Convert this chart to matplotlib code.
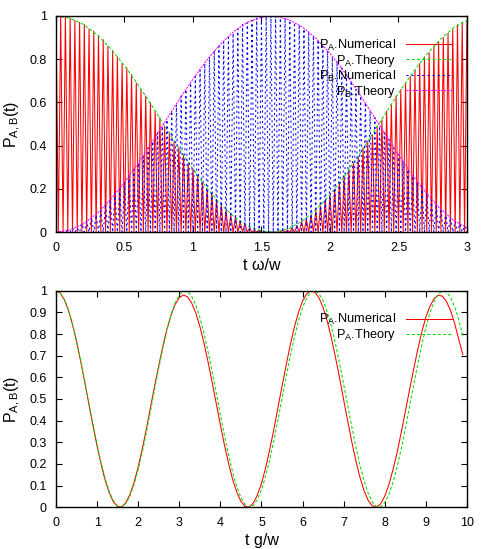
import numpy as np
import matplotlib
matplotlib.use('Agg')
import matplotlib.pyplot as plt

plt.rcParams['font.family'] = ['Liberation Sans', 'DejaVu Sans']
plt.rcParams['mathtext.fontset'] = 'custom'
plt.rcParams['mathtext.rm'] = 'Liberation Sans'
plt.rcParams['mathtext.it'] = 'Liberation Sans:italic'
plt.rcParams['mathtext.bf'] = 'Liberation Sans:bold'

# ---------------- top panel data ----------------
spike_period = 3.0 / 87      # spacing of the fast oscillation peaks (t w/w units)
trough_level = 0.0           # minima of the fast oscillation

pa_peaks = [1.00, 1.00, 1.00, 0.99, 0.98, 0.97, 0.96, 0.94, 0.93, 0.91,
            0.89, 0.86, 0.84, 0.81, 0.78, 0.76, 0.73, 0.69, 0.66, 0.63,
            0.60, 0.56, 0.53, 0.49, 0.46, 0.42, 0.39, 0.36, 0.32, 0.29,
            0.26, 0.23, 0.20, 0.18, 0.15, 0.13, 0.10, 0.08, 0.07, 0.05,
            0.04, 0.02, 0.01, 0.01, 0.00, 0.00, 0.00, 0.00, 0.01, 0.01,
            0.02, 0.03, 0.05, 0.06, 0.08, 0.10, 0.12, 0.15, 0.17, 0.20,
            0.23, 0.26, 0.29, 0.32, 0.35, 0.39, 0.42, 0.45, 0.49, 0.52,
            0.56, 0.59, 0.63, 0.66, 0.69, 0.72, 0.75, 0.78, 0.81, 0.83,
            0.86, 0.88, 0.90, 0.92, 0.94, 0.96, 0.97, 0.98]

pb_peaks = [0.00, 0.00, 0.01, 0.02, 0.02, 0.04, 0.05, 0.07, 0.08, 0.10,
            0.13, 0.15, 0.18, 0.20, 0.23, 0.26, 0.29, 0.32, 0.35, 0.39,
            0.42, 0.46, 0.49, 0.52, 0.56, 0.59, 0.63, 0.66, 0.69, 0.72,
            0.75, 0.78, 0.81, 0.84, 0.86, 0.88, 0.90, 0.92, 0.94, 0.96,
            0.97, 0.98, 0.99, 0.99, 1.00, 1.00, 1.00, 0.99, 0.99, 0.98,
            0.97, 0.96, 0.94, 0.93, 0.91, 0.89, 0.86, 0.84, 0.81, 0.79,
            0.76, 0.73, 0.70, 0.66, 0.63, 0.60, 0.56, 0.53, 0.49, 0.46,
            0.43, 0.39, 0.36, 0.33, 0.29, 0.26, 0.23, 0.21, 0.18, 0.15,
            0.13, 0.11, 0.09, 0.07, 0.05, 0.04, 0.03]

theory_t = [0.0, 0.1, 0.2, 0.3, 0.4, 0.5, 0.6, 0.7, 0.8, 0.9,
            1.0, 1.1, 1.2, 1.3, 1.4, 1.5, 1.6, 1.7, 1.8, 1.9,
            2.0, 2.1, 2.2, 2.3, 2.4, 2.5, 2.6, 2.7, 2.8, 2.9, 3.0]
pa_theory = [1.000, 0.990, 0.961, 0.913, 0.848, 0.770, 0.681, 0.585, 0.485, 0.386,
             0.292, 0.205, 0.131, 0.071, 0.029, 0.005, 0.001, 0.017, 0.052, 0.105,
             0.173, 0.254, 0.346, 0.444, 0.544, 0.642, 0.734, 0.817, 0.888, 0.944, 0.980]
pb_theory = [0.000, 0.010, 0.039, 0.087, 0.152, 0.230, 0.319, 0.415, 0.515, 0.614,
             0.708, 0.795, 0.869, 0.929, 0.971, 0.995, 0.999, 0.983, 0.948, 0.895,
             0.827, 0.746, 0.654, 0.556, 0.456, 0.358, 0.266, 0.183, 0.112, 0.056, 0.020]

# ---------------- bottom panel data ----------------
bottom_t = [round(0.1 * i, 1) for i in range(100)]   # 0.0 ... 9.9
pa_num_bottom = [1.000, 0.990, 0.960, 0.911, 0.845, 0.766, 0.675, 0.578, 0.477, 0.377,
                 0.283, 0.197, 0.123, 0.065, 0.024, 0.003, 0.002, 0.021, 0.060, 0.115,
                 0.186, 0.270, 0.362, 0.461, 0.560, 0.653, 0.744, 0.822, 0.887, 0.937,
                 0.968, 0.980, 0.972, 0.944, 0.898, 0.836, 0.759, 0.672, 0.577, 0.479,
                 0.381, 0.287, 0.202, 0.128, 0.070, 0.027, 0.004, 0.001, 0.019, 0.056,
                 0.110, 0.181, 0.265, 0.358, 0.459, 0.558, 0.655, 0.749, 0.831, 0.899,
                 0.952, 0.985, 1.000, 0.993, 0.967, 0.922, 0.860, 0.783, 0.694, 0.598,
                 0.497, 0.397, 0.301, 0.213, 0.136, 0.075, 0.031, 0.006, 0.001, 0.016,
                 0.051, 0.104, 0.173, 0.252, 0.344, 0.441, 0.539, 0.634, 0.726, 0.808,
                 0.878, 0.928, 0.963, 0.979, 0.975, 0.951, 0.909, 0.850, 0.775, 0.705]
pa_theory_bottom = [1.000, 0.990, 0.961, 0.913, 0.848, 0.770, 0.681, 0.585, 0.485, 0.386,
                    0.292, 0.205, 0.131, 0.071, 0.029, 0.005, 0.001, 0.017, 0.052, 0.105,
                    0.173, 0.254, 0.346, 0.444, 0.544, 0.642, 0.734, 0.817, 0.888, 0.944,
                    0.980, 0.998, 0.997, 0.975, 0.935, 0.877, 0.804, 0.719, 0.626, 0.527,
                    0.427, 0.331, 0.240, 0.161, 0.094, 0.044, 0.013, 0.000, 0.008, 0.035,
                    0.080, 0.143, 0.219, 0.307, 0.403, 0.502, 0.602, 0.697, 0.784, 0.860,
                    0.922, 0.967, 0.993, 1.000, 0.986, 0.954, 0.903, 0.836, 0.756, 0.665,
                    0.568, 0.469, 0.370, 0.277, 0.192, 0.120, 0.063, 0.024, 0.003, 0.002,
                    0.021, 0.059, 0.115, 0.186, 0.270, 0.362, 0.462, 0.562, 0.658, 0.749,
                    0.830, 0.899, 0.950, 0.984, 0.999, 0.994, 0.970, 0.926, 0.866, 0.791]

top_xticks = [0, 0.5, 1, 1.5, 2, 2.5, 3]
top_xticklabels = ['0', '0.5', '1', '1.5', '2', '2.5', '3']
top_yticks = [0, 0.2, 0.4, 0.6, 0.8, 1]
top_yticklabels = ['0', '0.2', '0.4', '0.6', '0.8', '1']
bot_xticks = [0, 1, 2, 3, 4, 5, 6, 7, 8, 9, 10]
bot_xticklabels = ['0', '1', '2', '3', '4', '5', '6', '7', '8', '9', '10']
bot_yticks = [0, 0.1, 0.2, 0.3, 0.4, 0.5, 0.6, 0.7, 0.8, 0.9, 1]
bot_yticklabels = ['0', '0.1', '0.2', '0.3', '0.4', '0.5', '0.6', '0.7', '0.8', '0.9', '1']

labels_top = [r'P$_{\mathrm{A}}$.Numerical', r'P$_{\mathrm{A}}$.Theory',
              r'P$_{\mathrm{B}}$.Numerical', r'P$_{\mathrm{B}}$.Theory']
labels_bot = [r'P$_{\mathrm{A}}$.Numerical', r'P$_{\mathrm{A}}$.Theory']

RED = '#ff0000'
GREEN = '#00dd00'
BLUE = '#0000ff'
MAGENTA = '#ff00ff'

# build spike series (peaks alternating with troughs)
pa_peaks_a = np.asarray(pa_peaks)
pb_peaks_a = np.asarray(pb_peaks)
n_a = len(pa_peaks_a)
ka = np.arange(n_a)
red_x = np.empty(2 * n_a - 1)
red_y = np.empty(2 * n_a - 1)
red_x[0::2] = ka * spike_period
red_y[0::2] = pa_peaks_a
red_x[1::2] = (ka[:-1] + 0.5) * spike_period
red_y[1::2] = trough_level

n_b = len(pb_peaks_a)
kb = np.arange(n_b + 1)
blue_x = np.empty(2 * n_b + 1)
blue_y = np.empty(2 * n_b + 1)
blue_x[0::2] = kb * spike_period
blue_y[0::2] = trough_level
blue_x[1::2] = (kb[:-1] + 0.5) * spike_period
blue_y[1::2] = pb_peaks_a

fig = plt.figure(figsize=(4.91, 5.49), dpi=100)
ax1 = fig.add_axes([0.114, 0.577, 0.837, 0.394])
ax2 = fig.add_axes([0.114, 0.076, 0.837, 0.3945])

lw = 0.75
ax1.plot(red_x, red_y, color=RED, lw=lw, label=labels_top[0])
ax1.plot(theory_t, pa_theory, color=GREEN, lw=lw, dashes=(3, 2), label=labels_top[1])
ax1.plot(blue_x, blue_y, color=BLUE, lw=lw, dashes=(2, 3), label=labels_top[2])
ax1.plot(theory_t, pb_theory, color=MAGENTA, lw=lw, dashes=(2, 1), label=labels_top[3])

ax2.plot(bottom_t, pa_num_bottom, color=RED, lw=lw, label=labels_bot[0])
ax2.plot(bottom_t, pa_theory_bottom, color=GREEN, lw=lw, dashes=(3, 2), label=labels_bot[1])

ax1.set_xlim(0, 3)
ax1.set_ylim(0, 1)
ax2.set_xlim(0, 10)
ax2.set_ylim(0, 1)

ax1.set_xticks(top_xticks, top_xticklabels)
ax1.set_yticks(top_yticks, top_yticklabels)
ax2.set_xticks(bot_xticks, bot_xticklabels)
ax2.set_yticks(bot_yticks, bot_yticklabels)

for ax in (ax1, ax2):
    ax.tick_params(direction='in', length=4, width=0.8, top=True, right=True,
                   labelsize=9)
    ax.tick_params(axis='x', pad=7)
    ax.tick_params(axis='y', pad=6.5)
    for s in ax.spines.values():
        s.set_linewidth(1.0)
    ax.set_ylabel(r'P$_{\mathrm{A,B}}$(t)', fontsize=11.5, labelpad=5)
    leg = ax.legend(loc='upper right', bbox_to_anchor=(0.9635, 0.90), frameon=False,
                    markerfirst=False, handlelength=3.6, handletextpad=0.75,
                    labelspacing=0.0, borderaxespad=0, borderpad=0, fontsize=9.2)

ax1.set_xlabel('t ω/w', fontsize=11.5, labelpad=3)
ax2.set_xlabel('t g/w', fontsize=11.5, labelpad=3)

fig.savefig('out.png', dpi=100)
